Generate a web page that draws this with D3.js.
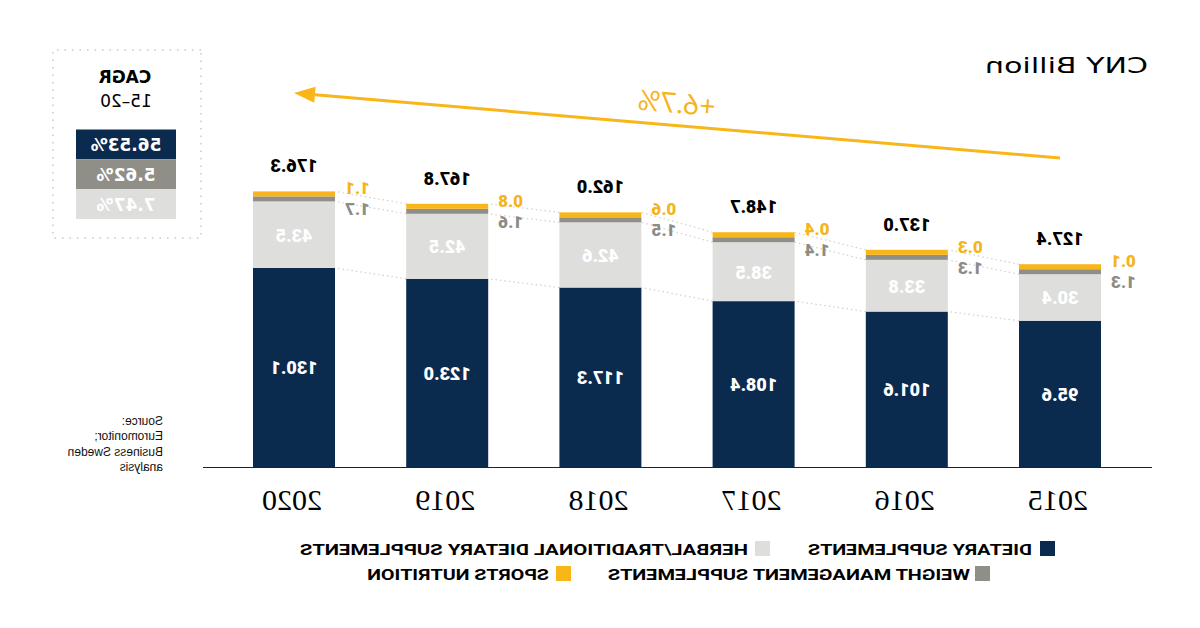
<!DOCTYPE html>
<html><head><meta charset="utf-8">
<script src="https://cdn.jsdelivr.net/npm/d3@7/dist/d3.min.js"></script>
<style>html,body{margin:0;padding:0;background:#fff;}svg{display:block;}</style>
</head><body>
<svg id="chart" width="1200" height="628"></svg>
<script>
const years = ["2015","2016","2017","2018","2019","2020"];
const dietary = [95.6, 101.6, 108.4, 117.3, 123.0, 130.1];
const herbal = [30.4, 33.8, 38.5, 42.6, 42.5, 43.5];
const weight = [1.3, 1.3, 1.4, 1.5, 1.6, 1.7];
const sports = [0.1, 0.3, 0.4, 0.6, 0.8, 1.1];
const totals = [127.4, 137.0, 148.7, 162.0, 167.8, 176.3];
const seriesNames = ["DIETARY SUPPLEMENTS","HERBAL/TRADITIONAL DIETARY SUPPLEMENTS","WEIGHT MANAGEMENT SUPPLEMENTS","SPORTS NUTRITION"];
const cagrLabels = ["56.53%","5.62%","7.47%"];
const cagrText = "+6.7%";

const colors = {dietary:"#0a2a4e", herbal:"#dededc", weight:"#8f8f88", sports:"#f9b619"};
const labelGray = "#8c8c86", labelYellow = "#f5b41c";
const numFont = "900 18px Roboto, 'DejaVu Sans', sans-serif";
const smallFont = "900 17px Roboto, 'DejaVu Sans', sans-serif";

const svg = d3.select("#chart");
// The reference is a horizontally mirrored rendering
const root = svg.append("g").attr("transform","translate(1200,0) scale(-1,1)");

const baseY = 467;
const x = d3.scaleBand().domain(years).range([63.4, 982.6]).paddingInner(0.4648).paddingOuter(0.2324);
const y = d3.scaleLinear().domain([0, 180]).range([baseY, baseY - 275.4]);
const minH = 5;
const hOf = (v, small) => small ? Math.max(y(0) - y(v), minH) : (y(0) - y(v));

const stacks = years.map((yr, i) => {
  const dTop = y(dietary[i]);
  const hTop = dTop - hOf(herbal[i]);
  const wTop = hTop - hOf(weight[i], true);
  const sTop = wTop - hOf(sports[i], true);
  return {yr, i, dTop, hTop, wTop, sTop};
});

// dotted connectors
for (let k = 0; k < stacks.length - 1; k++) {
  const a = stacks[k], b = stacks[k+1];
  ["sTop","hTop","dTop"].forEach(key => {
    root.append("line")
      .attr("x1", x(a.yr) + x.bandwidth()).attr("x2", x(b.yr))
      .attr("y1", a[key]).attr("y2", b[key])
      .attr("stroke", "#cfcfcf").attr("stroke-width", 1.2)
      .attr("stroke-dasharray", "1.5,3");
  });
}

// bars
const bw = x.bandwidth();
const g = root.append("g");
stacks.forEach(s => {
  const bx = x(s.yr);
  g.append("rect").attr("x", bx).attr("width", bw).attr("y", s.dTop).attr("height", baseY - s.dTop).attr("fill", colors.dietary);
  g.append("rect").attr("x", bx).attr("width", bw).attr("y", s.hTop).attr("height", s.dTop - s.hTop).attr("fill", colors.herbal);
  g.append("rect").attr("x", bx).attr("width", bw).attr("y", s.wTop).attr("height", s.hTop - s.wTop).attr("fill", colors.weight);
  g.append("rect").attr("x", bx).attr("width", bw).attr("y", s.sTop).attr("height", s.wTop - s.sTop).attr("fill", colors.sports);
  const cx = bx + bw/2;
  const i = s.i;
  g.append("text").attr("x", cx).attr("y", (s.dTop + baseY)/2 + 7)
    .attr("text-anchor","middle").attr("fill","#fff")
    .style("font", numFont).text(dietary[i].toFixed(1));
  g.append("text").attr("x", cx).attr("y", (s.hTop + s.dTop)/2 + 7)
    .attr("text-anchor","middle").attr("fill","#fff")
    .style("font", numFont).text(herbal[i].toFixed(1));
  g.append("text").attr("x", cx).attr("y", s.sTop - 19)
    .attr("text-anchor","middle").attr("fill","#000")
    .style("font", numFont).text(totals[i].toFixed(1));
  g.append("text").attr("x", bx - 10).attr("y", s.sTop + 3)
    .attr("text-anchor","end").attr("fill", labelYellow)
    .style("font", smallFont).text(sports[i].toFixed(1));
  g.append("text").attr("x", bx - 10).attr("y", s.sTop + 24)
    .attr("text-anchor","end").attr("fill", labelGray)
    .style("font", smallFont).text(weight[i].toFixed(1));
  g.append("text").attr("x", cx + 2).attr("y", 510)
    .attr("text-anchor","middle").attr("fill","#000")
    .style("font","30px 'Liberation Serif', 'DejaVu Serif', serif").text(s.yr);
});

// axis baseline
root.append("line").attr("x1", 48).attr("x2", 997).attr("y1", baseY + 0.5).attr("y2", baseY + 0.5)
  .attr("stroke", "#222").attr("stroke-width", 1);

// CAGR arrow
const ax1 = x("2015") + bw/2, ay1 = 158, ax2 = x("2020") + bw/2, ay2 = 93;
const ang = Math.atan2(ay2 - ay1, ax2 - ax1);
const hl = 21, hw = 8;
const bxh = ax2 - hl*Math.cos(ang), byh = ay2 - hl*Math.sin(ang);
root.append("line").attr("x1", ax1).attr("y1", ay1).attr("x2", bxh).attr("y2", byh)
  .attr("stroke", colors.sports).attr("stroke-width", 3);
root.append("path")
  .attr("d", `M${ax2},${ay2} L${bxh - hw*Math.sin(ang)},${byh + hw*Math.cos(ang)} L${bxh + hw*Math.sin(ang)},${byh - hw*Math.cos(ang)} Z`)
  .attr("fill", colors.sports);
root.append("text").attr("transform", `translate(524,113) rotate(${ang*180/Math.PI})`)
  .attr("text-anchor","middle").attr("fill", labelYellow)
  .style("font","400 28px Lato, 'Open Sans', sans-serif").text(cagrText);

// unit label
root.append("text").attr("x", 52).attr("y", 73).attr("fill","#000")
  .attr("textLength", 163).attr("lengthAdjust","spacingAndGlyphs")
  .style("font","22px 'DejaVu Sans', sans-serif").text("CNY Billion");

// CAGR box
const box = root.append("g");
box.append("rect").attr("x", 999).attr("y", 50).attr("width", 148).attr("height", 188)
  .attr("fill","none").attr("stroke","#c9c9c9").attr("stroke-width",1.5).attr("stroke-dasharray","1.5,6");
box.append("text").attr("x", 1075).attr("y", 83).attr("text-anchor","middle")
  .style("font","bold 17px 'DejaVu Sans', sans-serif").text("CAGR");
box.append("text").attr("x", 1074).attr("y", 107).attr("text-anchor","middle")
  .style("font","17px 'DejaVu Sans', sans-serif").text("15–20");
const cagrColors = [colors.dietary, colors.weight, colors.herbal];
const cb = d3.scaleBand().domain(d3.range(3)).range([129.5, 219]);
cagrLabels.forEach((t, i) => {
  box.append("rect").attr("x", 1024).attr("width", 100).attr("y", cb(i)).attr("height", cb.bandwidth()).attr("fill", cagrColors[i]);
  box.append("text").attr("x", 1074).attr("y", cb(i) + cb.bandwidth()/2 + 6.5).attr("text-anchor","middle")
    .attr("fill","#fff").style("font","bold 17px 'DejaVu Sans', sans-serif").text(t);
});

// source
const src = ["Source:","Euromonitor;","Business Sweden","analysis"];
src.forEach((t, i) => {
  root.append("text").attr("x", 1037).attr("y", 425 + i*15.3).attr("fill","#111")
    .style("font","12px 'Liberation Sans', Arial, sans-serif").text(t);
});

// legend
const legend = [
  {name: seriesNames[0], color: colors.dietary, sx: 145, tx: 168, tl: 224, y: 541},
  {name: seriesNames[1], color: colors.herbal, sx: 430, tx: 452, tl: 448, y: 541},
  {name: seriesNames[2], color: colors.weight, sx: 210, tx: 230, tl: 362, y: 566},
  {name: seriesNames[3], color: colors.sports, sx: 629, tx: 651, tl: 182, y: 566}
];
legend.forEach(l => {
  root.append("rect").attr("x", l.sx).attr("y", l.y).attr("width", 15).attr("height", 15).attr("fill", l.color);
  root.append("text").attr("x", l.tx).attr("y", l.y + 13.5).attr("fill","#000")
    .attr("textLength", l.tl).attr("lengthAdjust","spacingAndGlyphs")
    .style("font","bold 15px Roboto, 'DejaVu Sans', sans-serif").text(l.name);
});
</script>
</body></html>
